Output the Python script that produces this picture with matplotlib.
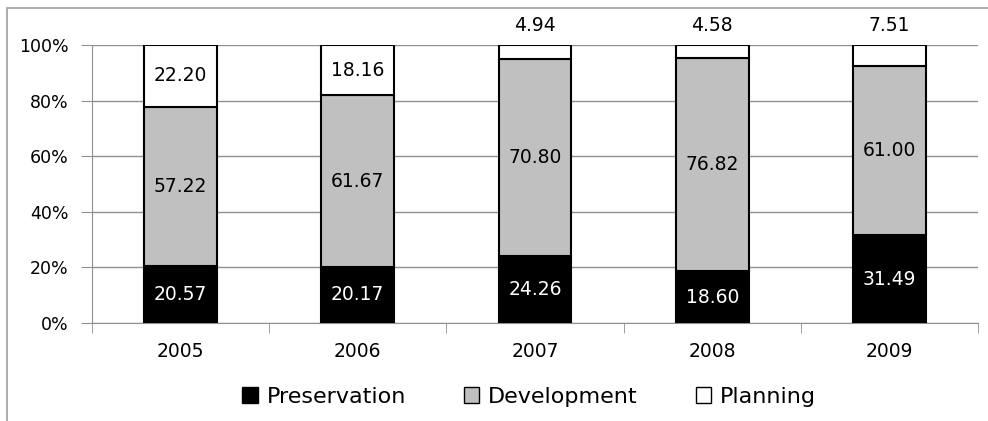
import numpy as np
import matplotlib.pyplot as plt
from matplotlib.patches import Rectangle, Patch

years = ['2005', '2006', '2007', '2008', '2009']
preservation = [20.57, 20.17, 24.26, 18.60, 31.49]
development = [57.22, 61.67, 70.80, 76.82, 61.00]
planning = [22.20, 18.16, 4.94, 4.58, 7.51]

plt.rcParams['font.family'] = ['DejaVu Sans']

fig = plt.figure(figsize=(9.88, 4.21), dpi=100)
# outer chart frame
fig.patches.append(Rectangle((7 / 988, -0.1), 1.2, 1 - 8 / 421 + 0.1,
                             transform=fig.transFigure, fill=False,
                             edgecolor='#a0a0a0', linewidth=1.2))
ax = fig.add_axes([92 / 988, 98 / 421, 886 / 988, 278 / 421])

x = np.arange(len(years))
w = 0.41
bottom2 = np.array(preservation)
bottom3 = bottom2 + np.array(development)

ax.bar(x, preservation, w, color='black', edgecolor='black', lw=1.5, zorder=3)
ax.bar(x, development, w, bottom=bottom2, color='#c0c0c0', edgecolor='black',
       lw=1.5, zorder=3)
ax.bar(x, planning, w, bottom=bottom3, color='white', edgecolor='black',
       lw=1.5, zorder=3)

fs = 13.5
for i in range(len(years)):
    ax.text(x[i], preservation[i] / 2, f'{preservation[i]:.2f}', color='white',
            ha='center', va='center', fontsize=fs, zorder=4)
    ax.text(x[i], bottom2[i] + development[i] / 2, f'{development[i]:.2f}',
            ha='center', va='center', fontsize=fs, zorder=4)
    if planning[i] > 10:
        ax.text(x[i], bottom3[i] + planning[i] / 2, f'{planning[i]:.2f}',
                ha='center', va='center', fontsize=fs, zorder=4)
    else:
        ax.text(x[i], 107, f'{planning[i]:.2f}', ha='center', va='center',
                fontsize=fs, zorder=4, clip_on=False)

ax.set_xlim(-0.5, len(years) - 0.5)
ax.set_ylim(0, 100)
ax.set_yticks(np.arange(0, 101, 20))
ax.set_yticklabels([f'{v}%' for v in range(0, 101, 20)], fontsize=12.5)
ax.set_xticks(x)
ax.set_xticklabels(years, fontsize=fs)
ax.set_xticks(np.arange(-0.5, len(years)), minor=True)
ax.tick_params(axis='x', which='major', length=0, pad=14)
ax.tick_params(axis='x', which='minor', length=7, color='#909090', direction='out')
ax.tick_params(axis='y', length=8, color='#909090', pad=9)
ax.yaxis.grid(True, color='#909090', lw=1)
ax.set_axisbelow(True)
for s in ['top', 'right']:
    ax.spines[s].set_visible(False)
ax.spines['left'].set_color('#909090')
ax.spines['bottom'].set_color('#909090')

handles = [Patch(facecolor='black', edgecolor='black', label='Preservation'),
           Patch(facecolor='#c0c0c0', edgecolor='black', label='Development'),
           Patch(facecolor='white', edgecolor='black', label='Planning')]
fig.legend(handles=handles, loc='center', bbox_to_anchor=(529 / 988, 1 - 397 / 421),
           ncol=3, frameon=False, fontsize=16, handlelength=0.7,
           handleheight=0.7, handletextpad=0.4, columnspacing=2.6)

fig.savefig('out.png', dpi=100)
